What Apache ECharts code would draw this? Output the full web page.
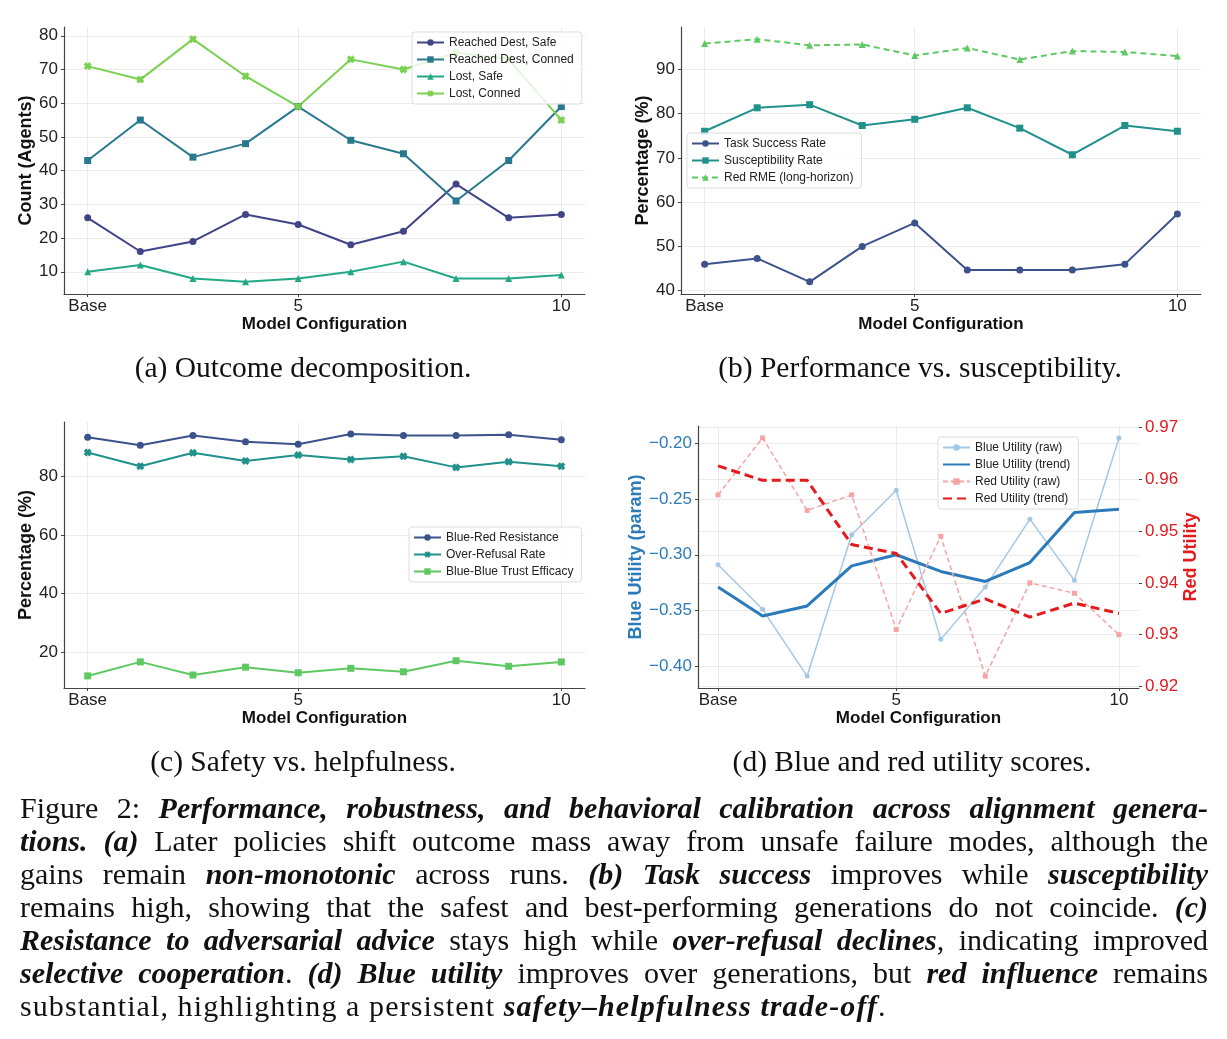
<!DOCTYPE html>
<html><head><meta charset="utf-8">
<script src="https://cdn.jsdelivr.net/npm/echarts@6/dist/echarts.min.js"></script>
<style>
html,body{margin:0;padding:0;background:#fff;}
#chart{position:absolute;left:0;top:0;width:1227px;height:1039px;}
#cap{position:absolute;left:20px;top:791px;width:1188px;font-family:"Liberation Serif",serif;font-size:30px;color:#111;}
#cap div{height:33px;line-height:33px;text-align:justify;text-align-last:justify;white-space:nowrap;}
#cap div.last{text-align-last:left;letter-spacing:1.1px;}
#cap b{font-weight:bold;font-style:italic;}
</style></head>
<body>
<div id="chart"></div>
<div id="cap">
<div>Figure 2: <b>Performance, robustness, and behavioral calibration across alignment genera-</b></div>
<div><b>tions. (a)</b> Later policies shift outcome mass away from unsafe failure modes, although the</div>
<div>gains remain <b>non-monotonic</b> across runs. <b>(b) Task success</b> improves while <b>susceptibility</b></div>
<div>remains high, showing that the safest and best-performing generations do not coincide. <b>(c)</b></div>
<div><b>Resistance to adversarial advice</b> stays high while <b>over-refusal declines</b>, indicating improved</div>
<div><b>selective cooperation</b>. <b>(d) Blue utility</b> improves over generations, but <b>red influence</b> remains</div>
<div class="last">substantial, highlighting a persistent <b>safety–helpfulness trade-off</b>.</div>
</div>
<script>
// ---- data ----
const configs = [1, 2, 3, 4, 5, 6, 7, 8, 9, 10];
const xTickValues = [1, 5, 10];
const xTickLabels = ['Base', '5', '10'];

// (a) outcome decomposition
const reachedSafe   = [26, 16, 19, 27, 24, 18, 22, 36, 26, 27];
const reachedConned = [43, 55, 44, 48, 59, 49, 45, 31, 43, 59];
const lostSafe      = [10, 12, 8, 7, 8, 10, 13, 8, 8, 9];
const lostConned    = [71, 67, 79, 68, 59, 73, 70, 75, 73, 55];
const yTicksA = [10, 20, 30, 40, 50, 60, 70, 80];

// (b) performance vs susceptibility
const taskSuccess    = [46.0, 47.3, 42.0, 50.0, 55.3, 44.7, 44.7, 44.7, 46.0, 57.3];
const susceptibility = [76.0, 81.3, 82.0, 77.3, 78.7, 81.3, 76.7, 70.7, 77.3, 76.0];
const redRME         = [95.8, 96.8, 95.4, 95.6, 93.1, 94.8, 92.2, 94.1, 93.9, 93.0];
const yTicksB = [40, 50, 60, 70, 80, 90];

// (c) safety vs helpfulness
const blueRedResistance = [93.5, 90.8, 94.1, 92.0, 91.1, 94.6, 94.1, 94.1, 94.4, 92.7];
const overRefusal       = [88.3, 83.6, 88.2, 85.4, 87.4, 85.9, 87.0, 83.2, 85.1, 83.6];
const blueBlueTrust     = [11.8, 16.6, 12.1, 14.8, 12.9, 14.4, 13.2, 17.0, 15.1, 16.6];
const yTicksC = [20, 40, 60, 80];

// (d) utilities
const blueRaw   = [-0.309, -0.349, -0.409, -0.282, -0.242, -0.376, -0.329, -0.268, -0.323, -0.195];
const blueTrend = [-0.329, -0.355, -0.346, -0.310, -0.300, -0.315, -0.324, -0.307, -0.262, -0.259];
const redRaw    = [0.957, 0.968, 0.954, 0.957, 0.931, 0.949, 0.922, 0.940, 0.938, 0.930];
const redTrend  = [0.9626, 0.9598, 0.9598, 0.9474, 0.9457, 0.9341, 0.9369, 0.9334, 0.9361, 0.9341];
const yTicksDL = [-0.40, -0.35, -0.30, -0.25, -0.20];
const yTicksDR = [0.92, 0.93, 0.94, 0.95, 0.96, 0.97];

// ---- helpers ----
const SANS = '"Liberation Sans", Arial, sans-serif';
const AXC = '#444';
const GRIDC = '#ebebeb';
const XMARK = 'path://M0,3 L3,0 L5,2 L7,0 L10,3 L8,5 L10,7 L7,10 L5,8 L3,10 L0,7 L2,5 Z';
const zip = vals => configs.map((c, i) => [c, vals[i]]);
function pad(arrs) {
  const all = [].concat(...arrs);
  const lo = Math.min(...all), hi = Math.max(...all), m = (hi - lo) * 0.05;
  return [lo - m, hi + m];
}
function xAxis(g) {
  return {
    type: 'value', gridIndex: g, min: 0.55, max: 10.45,
    name: 'Model Configuration', nameLocation: 'middle', nameGap: 21,
    nameTextStyle: {fontFamily: SANS, fontSize: 17, fontWeight: 'bold', color: '#111'},
    axisLine: {show: true, lineStyle: {color: AXC, width: 1.2}},
    axisTick: {show: true, customValues: xTickValues, length: 3, lineStyle: {color: AXC}},
    axisLabel: {customValues: xTickValues, margin: 4, fontFamily: SANS, fontSize: 17, color: '#222',
      formatter: v => xTickLabels[xTickValues.indexOf(Math.round(v))] || ''},
    splitLine: {show: true, lineStyle: {color: GRIDC, width: 1}}
  };
}
function yAxis(g, ticks, range, name, gap, opts) {
  opts = opts || {};
  return Object.assign({
    type: 'value', gridIndex: g, min: range[0], max: range[1],
    name: name, nameLocation: 'middle', nameGap: gap, nameRotate: 90,
    nameTextStyle: {fontFamily: SANS, fontSize: 18, fontWeight: 'bold', color: opts.color || '#111'},
    axisLine: {show: true, lineStyle: {color: AXC, width: 1.2}},
    axisTick: {show: true, customValues: ticks, length: 3, lineStyle: {color: AXC}},
    axisLabel: {customValues: ticks, margin: 6, fontFamily: SANS, fontSize: 17, color: opts.color || '#222',
      formatter: opts.fmt || (v => String(Math.round(v)))},
    splitLine: {show: true, lineStyle: {color: GRIDC, width: 1}}
  }, opts.extra || {});
}
function line(name, vals, x, y, color, symbol, extra) {
  return Object.assign({
    name: name, type: 'line', xAxisIndex: x, yAxisIndex: y, data: zip(vals),
    symbol: symbol, symbolSize: 7, showSymbol: true,
    lineStyle: {color: color, width: 2}, itemStyle: {color: color},
    emphasis: {disabled: true}, animation: false
  }, extra || {});
}
function legend(names, left, top) {
  return {
    orient: 'vertical', left: left, top: top, data: names,
    itemWidth: 27, itemHeight: 8, itemGap: 4,
    padding: [4, 8, 4, 4],
    backgroundColor: 'rgba(255,255,255,0.8)', borderColor: '#dddddd', borderWidth: 1, borderRadius: 3,
    textStyle: {fontFamily: SANS, fontSize: 12, color: '#222', lineHeight: 13},
    selectedMode: false
  };
}
const minusFmt = v => (v < 0 ? '\u2212' : '') + Math.abs(v).toFixed(2);

const BLUE = '#2b7bba', RED = '#e41a1c';
const rangeA = pad([reachedSafe, reachedConned, lostSafe, lostConned]);
const rangeB = pad([taskSuccess, susceptibility, redRME]);
const rangeC = pad([blueRedResistance, overRefusal, blueBlueTrust]);
const rangeDL = pad([blueRaw, blueTrend]);
const rangeDR = pad([redRaw, redTrend]);

const subTitle = (text, x, y) => ({
  text: text, left: x, top: y, textAlign: 'center', padding: 0,
  textStyle: {fontFamily: '"Liberation Serif", serif', fontSize: 29.5, fontWeight: 'normal', color: '#111'}
});

const legendD = legend(['Blue Utility (raw)', 'Blue Utility (trend)', 'Red Utility (raw)', 'Red Utility (trend)'], 938, 437);
legendD.data = [
  'Blue Utility (raw)',
  {name: 'Blue Utility (trend)', itemStyle: {opacity: 0}},
  'Red Utility (raw)',
  {name: 'Red Utility (trend)', itemStyle: {opacity: 0}}
];

const option = {
  backgroundColor: '#fff',
  animation: false,
  title: [
    subTitle('(a) Outcome decomposition.', 303, 354),
    subTitle('(b) Performance vs. susceptibility.', 920, 354),
    subTitle('(c) Safety vs. helpfulness.', 303, 748),
    subTitle('(d) Blue and red utility scores.', 912, 748)
  ],
  grid: [
    {left: 64, top: 27, width: 521, height: 267, containLabel: false},
    {left: 681, top: 27, width: 520, height: 267, containLabel: false},
    {left: 64, top: 422, width: 521, height: 266, containLabel: false},
    {left: 698, top: 426, width: 441, height: 262, containLabel: false}
  ],
  xAxis: [xAxis(0), xAxis(1), xAxis(2), xAxis(3)],
  yAxis: [
    yAxis(0, yTicksA, rangeA, 'Count (Agents)', 19),
    yAxis(1, yTicksB, rangeB, 'Percentage (%)', 20),
    yAxis(2, yTicksC, rangeC, 'Percentage (%)', 20),
    yAxis(3, yTicksDL, rangeDL, 'Blue Utility (param)', 37, {color: BLUE, fmt: minusFmt}),
    yAxis(3, yTicksDR, rangeDR, 'Red Utility', 30, {color: RED, fmt: v => v.toFixed(2),
      extra: {position: 'right', axisLine: {show: false}}})
  ],
  legend: [
    legend(['Reached Dest, Safe', 'Reached Dest, Conned', 'Lost, Safe', 'Lost, Conned'], 412, 32),
    legend(['Task Success Rate', 'Susceptibility Rate', 'Red RME (long-horizon)'], 687, 133),
    legend(['Blue-Red Resistance', 'Over-Refusal Rate', 'Blue-Blue Trust Efficacy'], 409, 527),
    legendD
  ],
  series: [
    line('Reached Dest, Safe', reachedSafe, 0, 0, '#414487', 'circle'),
    line('Reached Dest, Conned', reachedConned, 0, 0, '#2a788e', 'rect'),
    line('Lost, Safe', lostSafe, 0, 0, '#22a884', 'triangle'),
    line('Lost, Conned', lostConned, 0, 0, '#7ad151', XMARK, {symbolSize: 8}),

    line('Task Success Rate', taskSuccess, 1, 1, '#3b528b', 'circle'),
    line('Susceptibility Rate', susceptibility, 1, 1, '#21918c', 'rect'),
    line('Red RME (long-horizon)', redRME, 1, 1, '#5ec962', 'triangle',
      {lineStyle: {color: '#5ec962', width: 2, type: [6, 4]}}),

    line('Blue-Red Resistance', blueRedResistance, 2, 2, '#3b528b', 'circle'),
    line('Over-Refusal Rate', overRefusal, 2, 2, '#21918c', XMARK, {symbolSize: 8}),
    line('Blue-Blue Trust Efficacy', blueBlueTrust, 2, 2, '#5ec962', 'rect'),

    line('Blue Utility (raw)', blueRaw, 3, 3, '#a3c8e4', 'circle',
      {symbolSize: 5, lineStyle: {color: '#a3c8e4', width: 1.5}}),
    line('Blue Utility (trend)', blueTrend, 3, 3, BLUE, 'none',
      {showSymbol: false, lineStyle: {color: BLUE, width: 3}}),
    line('Red Utility (raw)', redRaw, 3, 4, '#f5a3a4', 'rect',
      {symbolSize: 5, lineStyle: {color: '#f5a3a4', width: 1.5, type: [5, 3]}}),
    line('Red Utility (trend)', redTrend, 3, 4, RED, 'none',
      {showSymbol: false, lineStyle: {color: RED, width: 3, type: [9, 5]}})
  ]
};
const chart = echarts.init(document.getElementById('chart'), null, {renderer: 'canvas'});
chart.setOption(option);
</script>
</body></html>
